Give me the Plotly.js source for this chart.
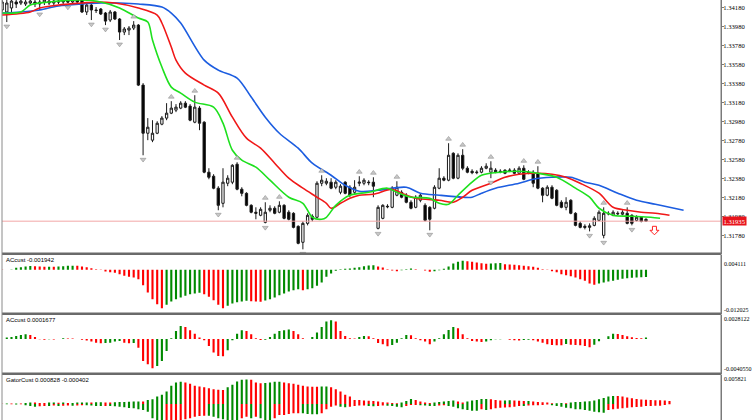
<!DOCTYPE html>
<html>
<head>
<meta charset="utf-8">
<script src="https://cdn.plot.ly/plotly-3.0.1.min.js"></script>
<style>
html,body{margin:0;padding:0;background:#fff;}
#chart{width:752px;height:420px;}
</style>
</head>
<body>
<div id="chart"></div>
<script>
// ---------- DATA ----------
const firstBar = -1;
const openP = [1.34156,1.34135,1.34177,1.34240,1.34229,1.34219,1.34229,1.34240,1.34219,1.34240,1.34250,1.34229,1.34250,1.34240,1.34250,1.34240,1.34261,1.34261,1.34135,1.34208,1.34156,1.34166,1.34124,1.34050,1.34135,1.34061,1.33924,1.33945,1.33966,1.33997,1.33366,1.32860,1.32787,1.32860,1.32955,1.33019,1.33071,1.33103,1.33124,1.33176,1.33145,1.32976,1.33124,1.32976,1.32450,1.32408,1.32282,1.32123,1.32334,1.32345,1.32534,1.32271,1.32228,1.32102,1.32029,1.31997,1.31923,1.32050,1.32071,1.32029,1.32102,1.32029,1.32018,1.31881,1.31713,1.31912,1.31987,1.31976,1.32334,1.32334,1.32345,1.32292,1.32239,1.32345,1.32292,1.32239,1.32334,1.32334,1.32345,1.32345,1.31860,1.31965,1.32092,1.32081,1.32208,1.32239,1.32208,1.32134,1.32081,1.32155,1.32102,1.32081,1.32071,1.32282,1.32387,1.32366,1.32649,1.32387,1.32628,1.32492,1.32460,1.32445,1.32450,1.32492,1.32450,1.32471,1.32460,1.32471,1.32466,1.32471,1.32439,1.32492,1.32450,1.32450,1.32439,1.32282,1.32208,1.32292,1.32260,1.32134,1.32081,1.32155,1.32018,1.31912,1.31881,1.31870,1.31891,1.31944,1.31786,1.32018,1.31997,1.32018,1.32008,1.32018,1.31997,1.31944,1.31976,1.31955];
const highP = [1.34293,1.34293,1.34303,1.34282,1.34272,1.34272,1.34282,1.34272,1.34261,1.34293,1.34282,1.34272,1.34282,1.34272,1.34272,1.34293,1.34303,1.34293,1.34240,1.34229,1.34187,1.34177,1.34135,1.34156,1.34145,1.34071,1.33977,1.33987,1.34039,1.34008,1.33387,1.33019,1.32997,1.32986,1.33040,1.33176,1.33197,1.33166,1.33197,1.33197,1.33166,1.33260,1.33145,1.32986,1.32492,1.32429,1.32303,1.32492,1.32418,1.32534,1.32555,1.32292,1.32239,1.32113,1.32081,1.32081,1.32134,1.32102,1.32092,1.32144,1.32113,1.32050,1.32029,1.31891,1.31933,1.32018,1.32008,1.32355,1.32418,1.32387,1.32387,1.32366,1.32324,1.32355,1.32313,1.32366,1.32408,1.32387,1.32366,1.32397,1.32102,1.32113,1.32113,1.32303,1.32355,1.32260,1.32229,1.32155,1.32208,1.32229,1.32123,1.32092,1.32313,1.32492,1.32408,1.32755,1.32660,1.32649,1.32692,1.32513,1.32481,1.32471,1.32513,1.32544,1.32565,1.32492,1.32481,1.32481,1.32492,1.32492,1.32513,1.32523,1.32471,1.32471,1.32513,1.32292,1.32313,1.32313,1.32271,1.32155,1.32187,1.32166,1.32029,1.31933,1.31902,1.31912,1.31987,1.32050,1.32081,1.32039,1.32050,1.32039,1.32050,1.32081,1.32008,1.31997,1.31987,1.31965];
const lowP = [1.34114,1.34029,1.34135,1.34177,1.34208,1.34198,1.34208,1.34187,1.34156,1.34208,1.34208,1.34208,1.34219,1.34219,1.34229,1.34229,1.34219,1.34124,1.34103,1.34050,1.34124,1.34103,1.33997,1.34029,1.34050,1.33840,1.33892,1.33892,1.33945,1.33356,1.32628,1.32787,1.32766,1.32850,1.32944,1.32997,1.33061,1.33082,1.33113,1.33124,1.32986,1.32965,1.32892,1.32439,1.32376,1.32271,1.32050,1.32081,1.32303,1.32324,1.32260,1.32197,1.32092,1.32018,1.31955,1.31987,1.31912,1.32029,1.32008,1.32018,1.31955,1.31944,1.31860,1.31692,1.31639,1.31891,1.31933,1.31965,1.32303,1.32313,1.32271,1.32271,1.32218,1.32218,1.32187,1.32218,1.32303,1.32313,1.32313,1.32187,1.31849,1.31955,1.32071,1.32071,1.32197,1.32176,1.32123,1.32060,1.32071,1.32134,1.31933,1.31839,1.32060,1.32271,1.32355,1.32355,1.32376,1.32376,1.32471,1.32439,1.32429,1.32429,1.32439,1.32481,1.32387,1.32439,1.32439,1.32429,1.32450,1.32429,1.32429,1.32366,1.32429,1.32292,1.32271,1.32134,1.32197,1.32166,1.32092,1.32071,1.32050,1.32008,1.31881,1.31860,1.31849,1.31828,1.31881,1.31933,1.31755,1.31997,1.31987,1.31997,1.31997,1.31902,1.31891,1.31933,1.31923,1.31933];
const closeP = [1.34240,1.34229,1.34250,1.34219,1.34250,1.34240,1.34250,1.34219,1.34240,1.34261,1.34229,1.34250,1.34240,1.34250,1.34240,1.34261,1.34240,1.34135,1.34208,1.34156,1.34150,1.34114,1.34039,1.34135,1.34061,1.33924,1.33956,1.33966,1.33997,1.33366,1.32860,1.32923,1.32860,1.32965,1.33019,1.33071,1.33124,1.33134,1.33176,1.33134,1.32997,1.33134,1.32965,1.32450,1.32397,1.32282,1.32102,1.32345,1.32387,1.32523,1.32271,1.32228,1.32102,1.32029,1.32018,1.32060,1.32029,1.32071,1.32018,1.32102,1.31965,1.31955,1.31870,1.31702,1.31912,1.31997,1.31955,1.32334,1.32366,1.32355,1.32282,1.32345,1.32303,1.32228,1.32208,1.32292,1.32345,1.32366,1.32340,1.32303,1.32081,1.32102,1.32087,1.32282,1.32292,1.32187,1.32134,1.32071,1.32187,1.32208,1.31944,1.31955,1.32292,1.32387,1.32366,1.32628,1.32387,1.32628,1.32492,1.32450,1.32445,1.32450,1.32492,1.32513,1.32492,1.32455,1.32455,1.32439,1.32471,1.32439,1.32492,1.32376,1.32445,1.32334,1.32282,1.32208,1.32292,1.32176,1.32102,1.32081,1.32134,1.32018,1.31891,1.31870,1.31870,1.31886,1.31965,1.32029,1.32018,1.32013,1.32029,1.32013,1.32029,1.31912,1.31912,1.31976,1.31933,1.31935];

// Alligator lines (bar index, price) sampled along each line
const jawIdx = [-1,3,7,11,16,20,24,28,33,35,37,42,45,49,52,55,58,62,65,69,72,75,79,85,88,92,97,99,101,104,109,112,116,120,123,126,130,134,138,141,144];
const jawVal = [1.34124,1.34135,1.34156,1.34198,1.34219,1.34229,1.34229,1.34219,1.34187,1.34124,1.34019,1.33629,1.33524,1.33440,1.33240,1.33029,1.32860,1.32703,1.32545,1.32418,1.32313,1.32250,1.32260,1.32292,1.32229,1.32208,1.32187,1.32187,1.32229,1.32282,1.32334,1.32376,1.32397,1.32397,1.32345,1.32313,1.32229,1.32155,1.32113,1.32081,1.32050];
const teethIdx = [-1,5,7,11,16,19,23,28,32,33,35,36,38,42,45,48,51,54,57,60,63,66,68,69,71,73,75,78,82,84,87,92,95,97,99,103,106,109,113,116,119,122,126,129,132,135,138,141];
const teethVal = [1.34103,1.34135,1.34177,1.34208,1.34229,1.34240,1.34229,1.34177,1.34103,1.34019,1.33766,1.33629,1.33492,1.33366,1.33282,1.33029,1.32808,1.32703,1.32545,1.32387,1.32282,1.32187,1.32123,1.32071,1.32123,1.32176,1.32208,1.32218,1.32271,1.32229,1.32176,1.32155,1.32134,1.32187,1.32260,1.32334,1.32397,1.32429,1.32439,1.32429,1.32397,1.32334,1.32229,1.32081,1.32050,1.32029,1.32018,1.31997];
const lipsIdx = [-1,3,5,9,16,20,24,28,30,31,33,35,37,40,44,46,48,50,53,56,60,63,65,67,68,70,73,77,81,83,86,90,92,94,96,99,101,105,109,113,117,121,124,126,129,133,137,139];
const lipsVal = [1.34124,1.34135,1.34208,1.34240,1.34261,1.34240,1.34177,1.34071,1.34029,1.33840,1.33556,1.33345,1.33282,1.33187,1.33134,1.32966,1.32681,1.32576,1.32503,1.32366,1.32187,1.32123,1.31976,1.31955,1.31976,1.32102,1.32208,1.32239,1.32282,1.32239,1.32187,1.32176,1.32123,1.32113,1.32208,1.32345,1.32418,1.32450,1.32460,1.32439,1.32397,1.32282,1.32187,1.32071,1.31997,1.31987,1.31976,1.31965];

// Fractals (bar indices)
const fractalUp = [27,35,40,49,55,58,67,75,78,83,94,97,103,110,113,127,132];
const fractalDown = [0,7,13,18,21,24,29,45,55,63,79,90,103,124,127,133];

// Indicator windows
const ac1 = [-0.00005,0.00005,0.00009,0.00055,0.00073,0.00091,0.00105,0.00100,0.00091,0.00082,0.00087,0.00082,0.00091,0.00100,0.00109,0.00114,0.00109,0.00091,0.00073,0.00046,0.00018,-0.00005,-0.00046,-0.00064,-0.00082,-0.00119,-0.00164,-0.00192,-0.00210,-0.00255,-0.00420,-0.00620,-0.00803,-0.00939,-0.01049,-0.00958,-0.00866,-0.00803,-0.00757,-0.00711,-0.00666,-0.00648,-0.00629,-0.00666,-0.00739,-0.00830,-0.00958,-0.01049,-0.00985,-0.00921,-0.00885,-0.00866,-0.00848,-0.00857,-0.00866,-0.00876,-0.00839,-0.00803,-0.00757,-0.00693,-0.00648,-0.00593,-0.00556,-0.00529,-0.00556,-0.00529,-0.00502,-0.00438,-0.00347,-0.00192,-0.00100,-0.00027,0.00018,0.00027,0.00036,0.00055,0.00073,0.00100,0.00119,0.00128,0.00091,0.00064,0.00018,-0.00018,-0.00036,-0.00009,0.00018,0.00036,0.00018,0.00000,-0.00018,-0.00055,-0.00036,-0.00009,0.00027,0.00091,0.00173,0.00219,0.00246,0.00237,0.00219,0.00201,0.00182,0.00169,0.00173,0.00182,0.00187,0.00155,0.00146,0.00137,0.00128,0.00109,0.00100,0.00082,0.00055,0.00018,-0.00005,-0.00036,-0.00064,-0.00119,-0.00146,-0.00173,-0.00210,-0.00255,-0.00301,-0.00374,-0.00410,-0.00374,-0.00347,-0.00319,-0.00301,-0.00274,-0.00246,-0.00228,-0.00219,-0.00210,-0.00201,-0.00194];
const ac2 = [0.00001,0.00016,0.00023,0.00035,0.00047,0.00054,0.00047,0.00023,-0.00004,-0.00008,-0.00004,-0.00006,0.00000,0.00008,0.00006,0.00004,0.00000,-0.00008,-0.00019,-0.00031,-0.00043,-0.00050,-0.00047,-0.00043,-0.00031,-0.00023,-0.00043,-0.00050,-0.00047,-0.00101,-0.00256,-0.00295,-0.00341,-0.00314,-0.00256,-0.00140,0.00008,0.00093,0.00151,0.00140,0.00101,0.00062,0.00016,-0.00016,-0.00081,-0.00159,-0.00198,-0.00202,-0.00132,-0.00016,0.00062,0.00101,0.00093,0.00054,0.00008,-0.00012,-0.00008,0.00023,0.00062,0.00093,0.00101,0.00109,0.00093,0.00054,0.00008,0.00000,0.00023,0.00074,0.00140,0.00202,0.00217,0.00202,0.00093,0.00035,0.00008,0.00004,0.00023,0.00035,0.00031,0.00008,-0.00047,-0.00062,-0.00085,-0.00070,-0.00043,0.00008,0.00047,0.00043,0.00008,-0.00016,-0.00031,-0.00062,-0.00031,0.00008,0.00054,0.00105,0.00140,0.00124,0.00054,0.00008,-0.00023,-0.00031,-0.00035,-0.00031,-0.00016,-0.00004,-0.00002,0.00000,-0.00008,-0.00016,-0.00017,-0.00012,-0.00010,-0.00016,-0.00031,-0.00043,-0.00062,-0.00070,-0.00072,-0.00074,-0.00058,-0.00066,-0.00070,-0.00074,-0.00081,-0.00097,-0.00066,-0.00027,0.00000,0.00031,0.00062,0.00058,0.00047,0.00031,0.00019,0.00012,0.00008,0.00017];
const gatorUp = [0.00003,0.00007,0.00007,0.00010,0.00007,0.00020,0.00027,0.00027,0.00020,0.00020,0.00027,0.00029,0.00026,0.00027,0.00020,0.00021,0.00027,0.00028,0.00029,0.00027,0.00033,0.00034,0.00028,0.00027,0.00033,0.00040,0.00041,0.00042,0.00047,0.00050,0.00047,0.00080,0.00094,0.00147,0.00181,0.00248,0.00361,0.00428,0.00442,0.00428,0.00401,0.00361,0.00348,0.00335,0.00315,0.00295,0.00281,0.00279,0.00335,0.00381,0.00448,0.00482,0.00490,0.00482,0.00428,0.00415,0.00418,0.00428,0.00442,0.00445,0.00428,0.00415,0.00401,0.00381,0.00361,0.00348,0.00345,0.00343,0.00346,0.00350,0.00335,0.00295,0.00248,0.00181,0.00147,0.00080,0.00078,0.00067,0.00065,0.00060,0.00047,0.00033,0.00027,0.00020,0.00013,0.00027,0.00060,0.00100,0.00080,0.00047,0.00027,0.00020,0.00027,0.00040,0.00047,0.00060,0.00067,0.00047,0.00027,0.00047,0.00067,0.00080,0.00100,0.00101,0.00094,0.00080,0.00067,0.00068,0.00074,0.00067,0.00066,0.00060,0.00061,0.00047,0.00040,0.00033,0.00027,0.00013,0.00014,0.00020,0.00015,0.00027,0.00040,0.00041,0.00047,0.00054,0.00067,0.00094,0.00120,0.00147,0.00161,0.00160,0.00147,0.00127,0.00114,0.00100,0.00090,0.00083,0.00080,0.00076,0.00072,0.00067,0.00060];
const gatorDown = [-0.00003,-0.00007,-0.00007,-0.00010,-0.00007,-0.00027,-0.00040,-0.00054,-0.00047,-0.00040,-0.00041,-0.00033,-0.00040,-0.00035,-0.00033,-0.00034,-0.00033,-0.00027,-0.00028,-0.00033,-0.00040,-0.00041,-0.00040,-0.00042,-0.00047,-0.00054,-0.00067,-0.00080,-0.00087,-0.00107,-0.00120,-0.00154,-0.00288,-0.00388,-0.00442,-0.00428,-0.00388,-0.00348,-0.00321,-0.00308,-0.00288,-0.00254,-0.00241,-0.00234,-0.00235,-0.00254,-0.00288,-0.00308,-0.00321,-0.00335,-0.00336,-0.00288,-0.00254,-0.00288,-0.00254,-0.00288,-0.00321,-0.00322,-0.00288,-0.00221,-0.00220,-0.00201,-0.00187,-0.00186,-0.00187,-0.00201,-0.00207,-0.00208,-0.00187,-0.00107,-0.00054,-0.00033,-0.00054,-0.00067,-0.00054,-0.00040,-0.00033,-0.00032,-0.00040,-0.00047,-0.00040,-0.00033,-0.00034,-0.00040,-0.00054,-0.00067,-0.00040,-0.00020,-0.00019,-0.00027,-0.00033,-0.00040,-0.00041,-0.00033,-0.00027,-0.00040,-0.00054,-0.00087,-0.00107,-0.00120,-0.00134,-0.00135,-0.00107,-0.00120,-0.00107,-0.00087,-0.00074,-0.00073,-0.00067,-0.00054,-0.00040,-0.00041,-0.00033,-0.00027,-0.00026,-0.00020,-0.00013,-0.00027,-0.00040,-0.00054,-0.00074,-0.00087,-0.00107,-0.00108,-0.00120,-0.00134,-0.00154,-0.00167,-0.00174,-0.00120,-0.00107,-0.00094,-0.00087,-0.00074,-0.00067,-0.00060,-0.00054,-0.00040,-0.00040,-0.00038,-0.00035,-0.00020,-0.00007];

const lastPrice = 1.31935;
const signalIdx = [137.8];
const signalPrice = [1.31839];
const priceRange = [1.31592, 1.34261];
const ac1Range = [-0.012025, 0.004111];
const ac2Range = [-0.004055, 0.0028122];
const gatorRange = [-0.00321, 0.005821];
const ac1Labels = ['0.004111', '-0.012025'];
const ac2Labels = ['0.0028122', '-0.0040550'];
const gatorLabels = ['0.005821'];
const panelTitles = ['ACcust -0.001942', 'ACcust 0.0001677', 'GatorCust 0.000828 -0.000402'];

// ---------- BUILD ----------
const GREEN = '#008a00', RED = '#ff0000';
const idx = openP.map((_, k) => k + firstBar);
const acIdx = ac1.map((_, k) => k + firstBar);
const gIdx = gatorUp.map((_, k) => k + firstBar);
function trendColors(arr, useAbs) {
  return arr.map((v, k) => {
    if (k === 0) return RED;
    const a = useAbs ? Math.abs(v) : v, b = useAbs ? Math.abs(arr[k-1]) : arr[k-1];
    return a > b ? GREEN : RED;
  });
}
const upOffset = 0.00045;
const fuX = fractalUp, fuY = fractalUp.map(i => highP[i - firstBar] + upOffset);
const fdX = fractalDown, fdY = fractalDown.map(i => lowP[i - firstBar] - upOffset);

const traces = [
  {type:'candlestick', x: idx, open: openP, high: highP, low: lowP, close: closeP,
   xaxis:'x', yaxis:'y', whiskerwidth:0,
   increasing:{line:{color:'#1a1a1a', width:1}, fillcolor:'#ffffff'},
   decreasing:{line:{color:'#1a1a1a', width:1}, fillcolor:'#000000'},
   hoverinfo:'skip'},
  {type:'scatter', mode:'lines', x: jawIdx, y: jawVal, xaxis:'x', yaxis:'y',
   line:{color:'#1c5de0', width:1.6, shape:'spline', smoothing:0.9}},
  {type:'scatter', mode:'lines', x: teethIdx, y: teethVal, xaxis:'x', yaxis:'y',
   line:{color:'#f01818', width:1.6, shape:'spline', smoothing:0.9}},
  {type:'scatter', mode:'lines', x: lipsIdx, y: lipsVal, xaxis:'x', yaxis:'y',
   line:{color:'#1ee01e', width:1.6, shape:'spline', smoothing:0.9}},
  {type:'scatter', mode:'markers', x: fuX, y: fuY, xaxis:'x', yaxis:'y',
   marker:{symbol:'triangle-up', size:5, color:'#c8c8c8', line:{color:'#909090', width:0.6}}},
  {type:'scatter', mode:'markers', x: fdX, y: fdY, xaxis:'x', yaxis:'y',
   marker:{symbol:'triangle-down', size:5, color:'#c8c8c8', line:{color:'#909090', width:0.6}}},
  {type:'bar', x: acIdx, y: ac1, xaxis:'x', yaxis:'y2', marker:{color: trendColors(ac1,false), line:{width:0}}},
  {type:'bar', x: acIdx, y: ac2, xaxis:'x', yaxis:'y3', marker:{color: trendColors(ac2,false), line:{width:0}}},
  {type:'bar', x: gIdx, y: gatorUp, xaxis:'x', yaxis:'y4', marker:{color: trendColors(gatorUp,false), line:{width:0}}},
  {type:'bar', x: gIdx, y: gatorDown, xaxis:'x', yaxis:'y4', marker:{color: trendColors(gatorDown,true), line:{width:0}}}
];

const H = 420;
const py = p => 1 - p / H; // pixel row -> paper y
const axFont = {family:'Liberation Serif, DejaVu Serif, serif', size:6.6, color:'#000'};
const subFont = {family:'Liberation Serif, DejaVu Serif, serif', size:6.0, color:'#000'};
const subAxis = (dom, rng) => ({domain: dom, range: rng, anchor:'x', side:'right', showgrid:false, zeroline:false,
  showticklabels:false, ticks:'', showline:true, linecolor:'#7a7a7a', linewidth:1, fixedrange:true});

const sepColor = '#6a6a6a';
const shapes = [
  {type:'line', xref:'paper', yref:'y', x0:0, x1:1, y0:lastPrice, y1:lastPrice, line:{color:'#f2a6a6', width:1}},
  {type:'line', xref:'paper', yref:'paper', x0:0, x1:1, y0:py(253.8), y1:py(253.8), line:{color:sepColor, width:2.4}},
  {type:'line', xref:'paper', yref:'paper', x0:0, x1:1, y0:py(313.8), y1:py(313.8), line:{color:sepColor, width:2.4}},
  {type:'line', xref:'paper', yref:'paper', x0:0, x1:1, y0:py(373.8), y1:py(373.8), line:{color:sepColor, width:2.4}},
  {type:'line', xref:'paper', yref:'paper', x0:0, x1:0, y0:0, y1:1, line:{color:'#8a8a8a', width:1}},
  {type:'line', xref:'paper', yref:'paper', x0:1, x1:1, y0:0, y1:1, line:{color:'#7a7a7a', width:1}},
  {type:'path', xref:'x', yref:'y', xsizemode:'pixel', ysizemode:'pixel',
   xanchor: signalIdx[0], yanchor: signalPrice[0],
   path:'M-2,4 L2,4 L2,0 L4.5,0 L0,-4.5 L-4.5,0 L-2,0 Z',
   line:{color:'#ff2020', width:1}, fillcolor:'#ffffff'}
];

const lab = (text, ypx, font) => ({text, xref:'paper', yref:'paper', x:1, y:py(ypx),
  xanchor:'left', yanchor:'middle', xshift:1, showarrow:false, font: font || subFont});
const annotations = [
  lab(ac1Labels[0], 263.5), lab(ac1Labels[1], 309.5),
  lab(ac2Labels[0], 318.5), lab(ac2Labels[1], 369.2),
  lab(gatorLabels[0], 378.5),
  {text: String(lastPrice.toFixed(5)), xref:'paper', yref:'y', x:1, y:lastPrice, xanchor:'left', yanchor:'middle',
   xshift:1, showarrow:false, bgcolor:'#e8141c', borderpad:0.5,
   font:{family:'Liberation Serif, DejaVu Serif, serif', size:6.6, color:'#ffffff'}},
  {text: panelTitles[0], xref:'paper', yref:'paper', x:0, y:py(260), xanchor:'left', yanchor:'middle', xshift:2, showarrow:false,
   font:{family:'Liberation Sans, Arial, sans-serif', size:6, color:'#000'}},
  {text: panelTitles[1], xref:'paper', yref:'paper', x:0, y:py(320), xanchor:'left', yanchor:'middle', xshift:2, showarrow:false,
   font:{family:'Liberation Sans, Arial, sans-serif', size:6, color:'#000'}},
  {text: panelTitles[2], xref:'paper', yref:'paper', x:0, y:py(379.5), xanchor:'left', yanchor:'middle', xshift:2, showarrow:false,
   font:{family:'Liberation Sans, Arial, sans-serif', size:6, color:'#000'}}
];

const layout = {
  width:752, height:420, margin:{l:2, r:31, t:0, b:0},
  paper_bgcolor:'#ffffff', plot_bgcolor:'#ffffff', showlegend:false,
  barmode:'relative', bargap:0.55, boxgap:0.3,
  xaxis:{range:[-1.02, 151.96], visible:false, fixedrange:true, rangeslider:{visible:false}},
  yaxis:{domain:[py(253.8), 1], range: priceRange, anchor:'x', side:'right', showgrid:false, zeroline:false,
    tick0:1.3418, dtick:0.002, tickformat:'.5f', ticks:'outside', ticklen:2, tickcolor:'#7a7a7a',
    ticklabelstandoff:-2,
    showline:true, linecolor:'#7a7a7a', linewidth:1, tickfont:axFont, fixedrange:true},
  yaxis2: subAxis([py(313.8), py(254.8)], ac1Range),
  yaxis3: subAxis([py(373.8), py(314.8)], ac2Range),
  yaxis4: subAxis([0, py(374.8)], gatorRange),
  shapes, annotations
};

Plotly.newPlot('chart', traces, layout, {staticPlot:true, displayModeBar:false});
</script>
</body>
</html>
